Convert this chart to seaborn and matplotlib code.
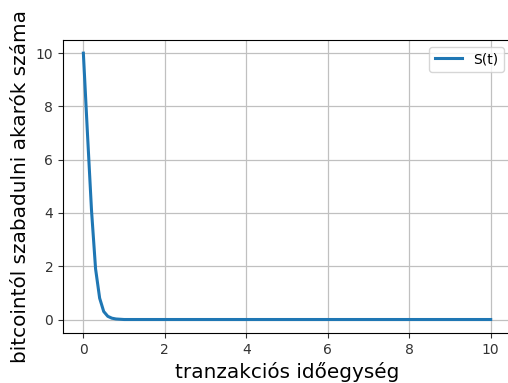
import matplotlib
matplotlib.use("Agg")
import matplotlib.pyplot as plt
import seaborn as sns
import pandas as pd

t_values = [0.0, 0.1, 0.2, 0.3, 0.4, 0.5, 0.6, 0.7, 0.8, 0.9, 1.0, 2.0, 4.0, 6.0, 8.0, 10.0]
s_values = [10.0, 7.0, 4.1, 1.9, 0.8, 0.3, 0.12, 0.05, 0.02, 0.01, 0.0, 0.0, 0.0, 0.0, 0.0, 0.0]
series_label = "S(t)"
x_label = "tranzakciós időegység"
y_label = "bitcointól szabadulni akarók száma"

df = pd.DataFrame({"t": t_values, "S": s_values})

fig = plt.figure(figsize=(5.08, 3.83), dpi=100)
ax = fig.add_axes([0.124, 0.131, 0.882, 0.765])
sns.lineplot(data=df, x="t", y="S", label=series_label, color="#1f77b4", linewidth=2.2, ax=ax)
ax.grid(True, color="#c0c0c0", linewidth=0.9)
ax.set_xlim(-0.5, 10.5)
ax.set_ylim(-0.5, 10.5)
ax.set_xticks([0, 2, 4, 6, 8, 10])
ax.set_yticks([0, 2, 4, 6, 8, 10])
ax.set_xlabel(x_label, fontsize=14.4)
ax.set_ylabel(y_label, fontsize=14.4)
ax.tick_params(labelsize=10, colors="#333333")
ax.legend(loc="upper right", fontsize=10)
fig.savefig("out.png", dpi=100)
